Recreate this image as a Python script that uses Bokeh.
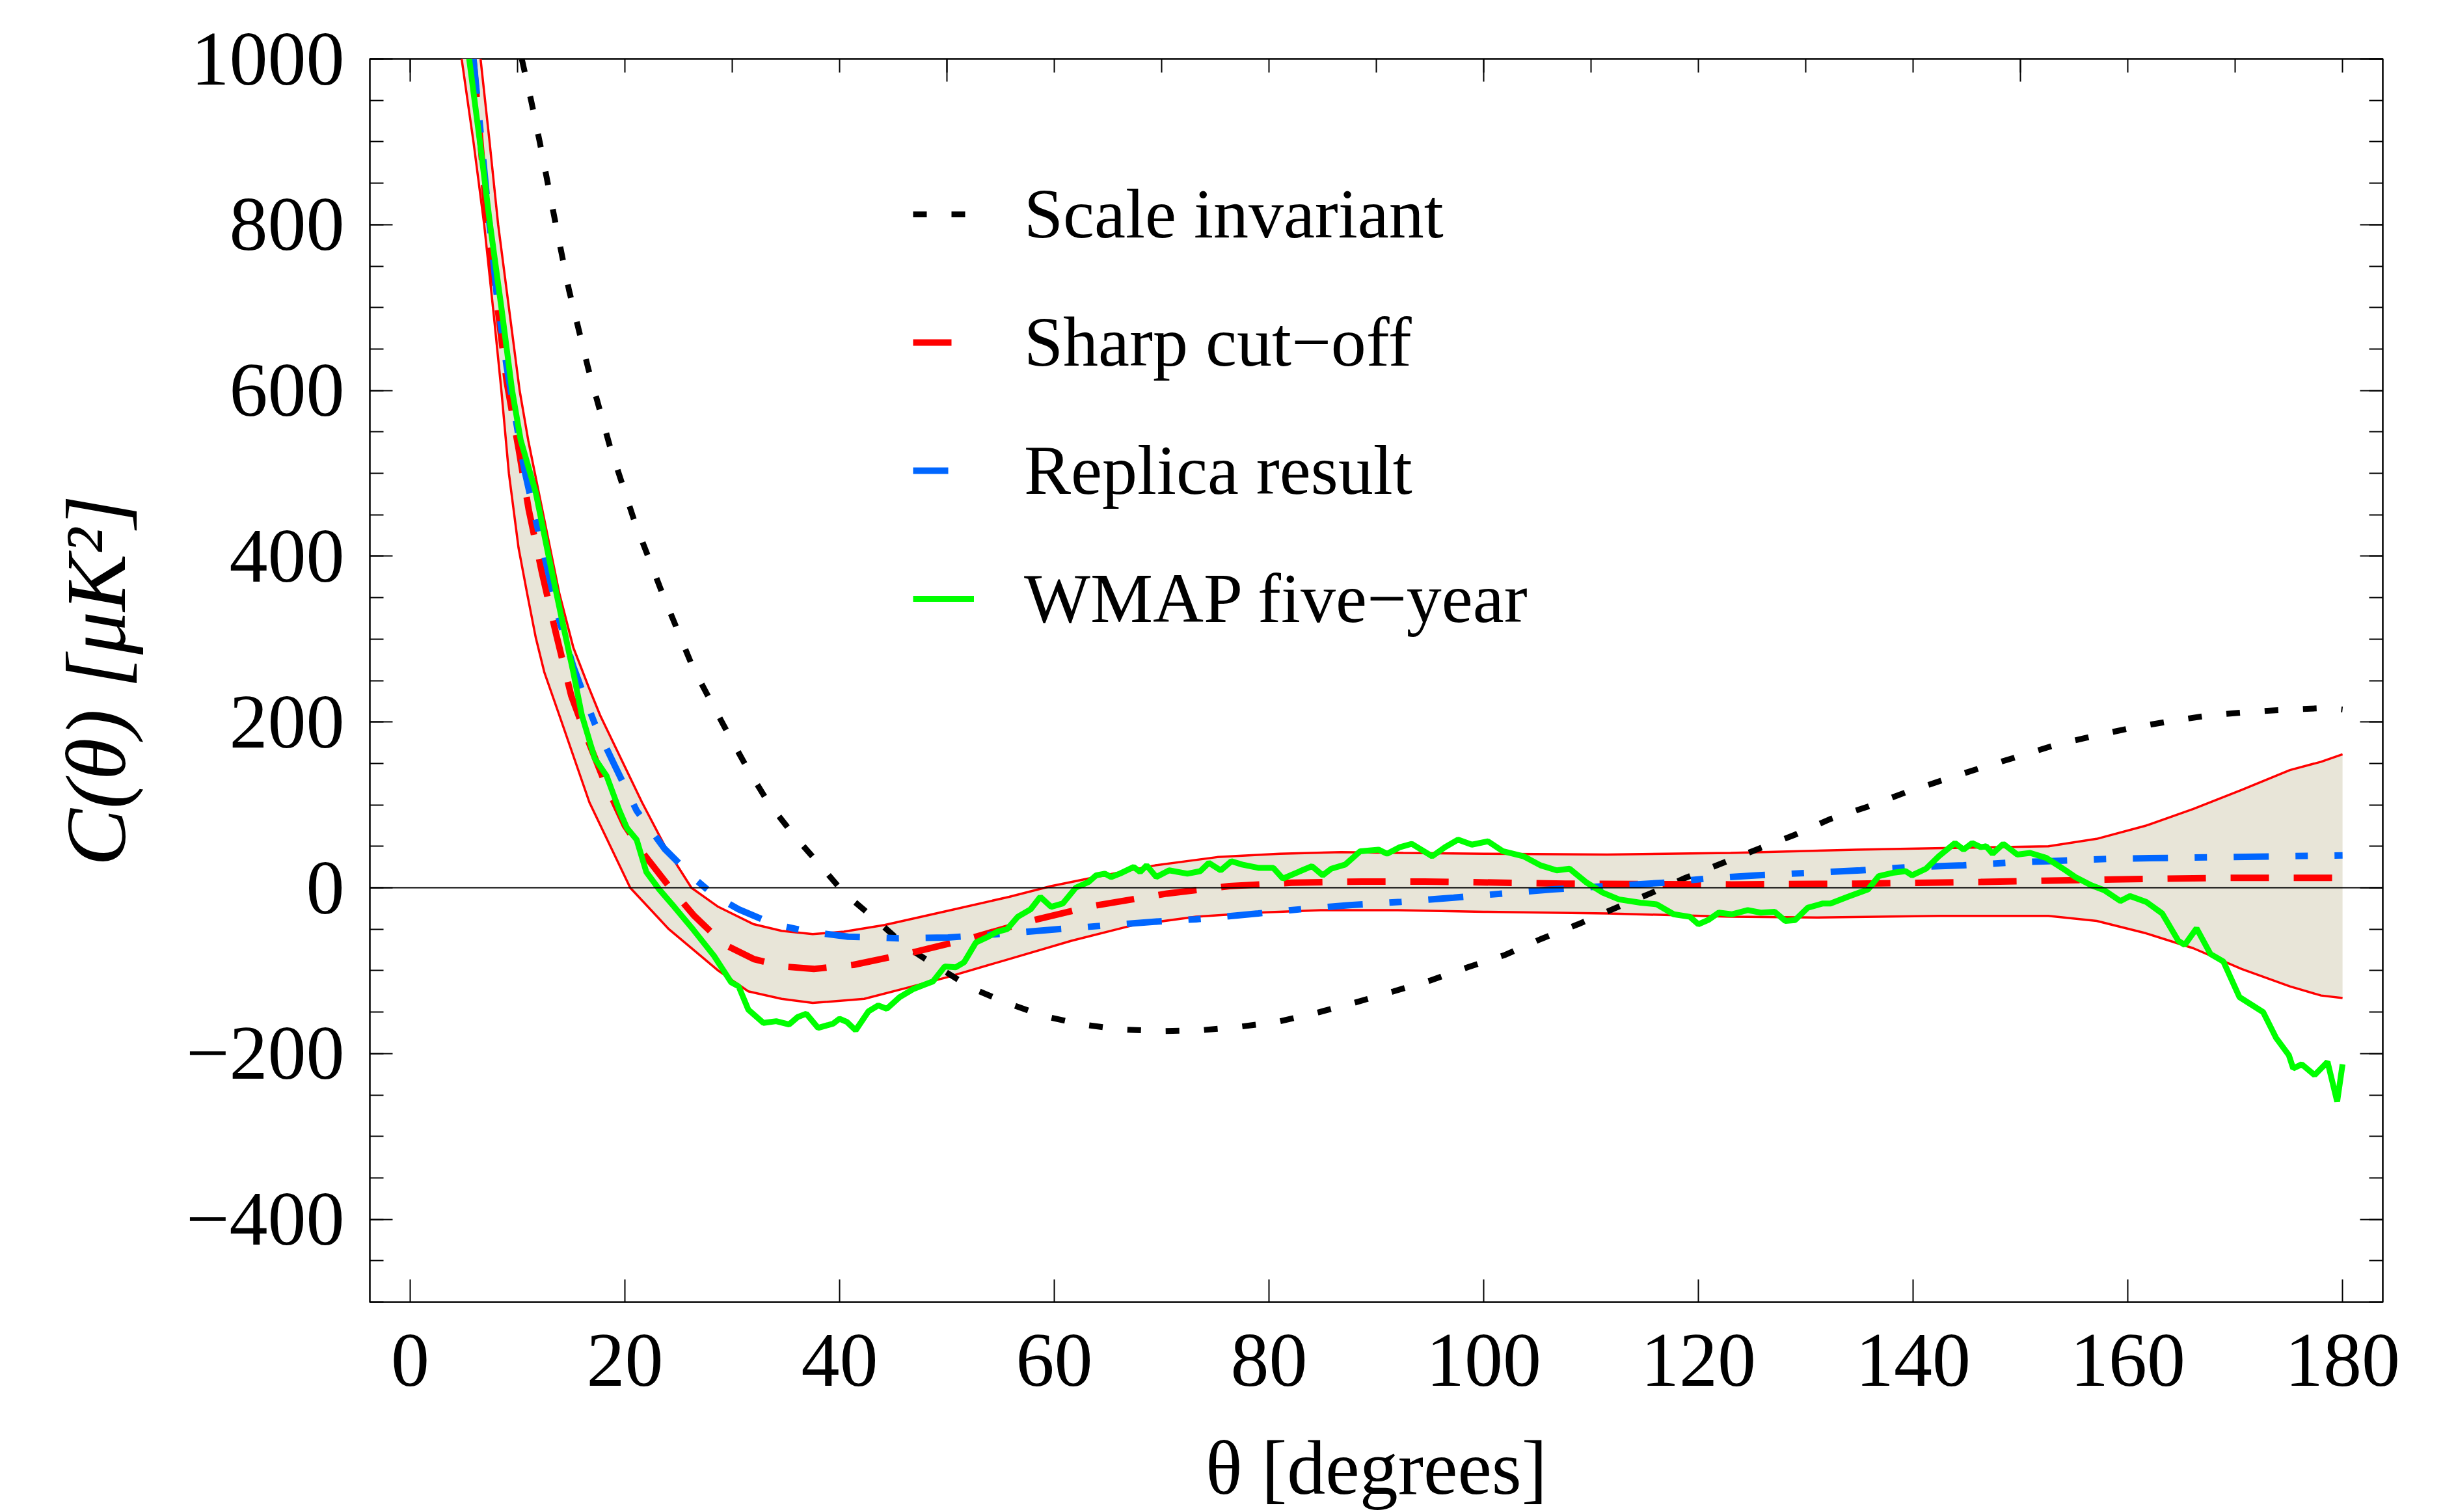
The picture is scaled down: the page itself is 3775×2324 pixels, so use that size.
from bokeh.plotting import figure
from bokeh.models import (Range1d, LinearAxis, SingleIntervalTicker, Legend,
                          LegendItem, Span, CustomJSTickFormatter)
from bokeh.embed import file_html
from bokeh.resources import INLINE

FONT = "Liberation Serif"

# ---------------- data ----------------
scale_x = [10.4, 11.3, 12.1, 13.6, 14.8, 16.6, 18.6, 20.9, 23.5, 26.3,
           28.0, 29.7, 31.5, 33.4, 35.7, 38.0, 40.4, 43.5, 46.2, 49.2,
           52.3, 55.6, 59.1, 62.6, 66.3, 69.9, 73.6, 77.1, 80.7, 84.4,
           87.9, 91.6, 95.0, 98.5, 102.0, 105.3, 108.8, 112.0, 115.5, 118.8,
           122.1, 125.6, 129.0, 132.3, 135.8, 139.3, 142.8, 146.4, 149.7, 153.2,
           156.8, 160.4, 164.0, 167.6, 171.2, 175.0, 178.6, 180.0]
scale_y = [1000, 948, 898, 798, 721, 626, 533, 442, 355, 267,
           225, 184, 142, 102, 64, 30, -6, -40, -71, -96,
           -121, -139, -155, -165, -171, -173, -172, -168, -162, -151,
           -139, -125, -112, -96, -81, -62, -44, -26, -7, 12,
           29, 47, 64, 83, 98, 115, 130, 145, 158, 172,
           183, 193, 201, 208, 212, 215, 217, 215]

sharp_x = [5.9, 7.2, 9.0, 10.1, 11.05, 12.3, 13.6, 15.0, 16.5, 18.1,
           20.0, 21.8, 24.1, 26.4, 29.2, 32.0, 34.8, 37.6, 41.3, 46.5,
           52.2, 57.8, 63.6, 70.5, 76.3, 82.1, 88.7, 94.5, 107.6, 123.1,
           134.7, 146.3, 158.6, 169.0, 180.0]
sharp_y = [1000, 800, 610, 530, 456, 379, 306, 232, 180, 128,
           75, 40, 2, -33, -68, -86, -95, -98, -93, -79,
           -61, -40, -22, -7, 2, 6, 7.5, 7.5, 5, 4,
           5, 7, 10, 12, 12]

replica_x = [5.9, 7.4, 8.1, 9.0, 9.8, 10.6, 11.6, 12.7, 13.8, 15.2,
             16.6, 17.2, 19.0, 21.1, 23.7, 26.4, 28.3, 30.6, 33.9, 37.1,
             40.8, 45.5, 50.1, 54.7, 59.4, 64.3, 69.3, 73.2, 79.0, 82.9,
             87.5, 92.3, 97.2, 101.8, 106.4, 111.5, 117.3, 120.7, 125.4, 130.4,
             135.1, 139.7, 144.7, 149.3, 152.6, 158.6, 169.1, 180.0]
replica_y = [1000, 800, 712, 628, 568, 507, 449, 390, 327, 267,
             218, 198, 149, 93, 47, 12, -9, -26, -44, -53,
             -59, -61, -60, -56, -51, -46, -41, -38, -31, -26,
             -21, -17, -12, -7, -2, 2, 6.5, 11, 15, 18,
             21, 25, 27, 30.5, 32, 35, 37, 39]

wmap_x = [5.5, 6.5, 7.45, 8.5, 9.5, 10.3, 11.7, 12.9, 14.2, 15.2,
          16.0, 17.2, 18.3, 19.5, 20.2, 21.1, 22.0, 23.2, 24.6, 26.4,
          28.3, 29.9, 30.6, 31.5, 32.9, 34.1, 35.3, 36.1, 36.9, 38.0,
          39.4, 40.0, 40.7, 41.5, 42.7, 43.6, 44.4, 45.6, 46.9, 47.9,
          48.7, 49.8, 50.8, 51.6, 52.7, 53.7, 54.7, 55.6, 56.6, 57.8,
          58.7, 59.7, 60.8, 62.0, 63.2, 63.9, 64.7, 65.3, 66.1, 67.4,
          68.0, 68.6, 69.5, 70.7, 72.4, 73.6, 74.4, 75.5, 76.5, 77.5,
          79.0, 80.4, 81.3, 82.9, 84.0, 85.0, 85.8, 87.1, 88.5, 90.2,
          91.0, 92.2, 93.3, 95.2, 96.4, 97.6, 98.9, 100.4, 101.8, 103.7,
          105.3, 106.8, 108.0, 109.5, 111.1, 112.6, 114.6, 116.1, 117.7, 119.2,
          120.0, 120.9, 121.9, 123.1, 124.6, 125.8, 127.1, 128.1, 129.0, 130.2,
          131.6, 132.3, 133.9, 135.8, 136.8, 138.1, 139.3, 139.9, 141.2, 142.4,
          143.9, 144.7, 145.5, 146.3, 146.8, 147.4, 148.4, 149.7, 150.9, 152.4,
          154.2, 155.1, 156.6, 157.8, 159.3, 160.2, 161.7, 163.2, 164.7, 165.3,
          166.4, 167.7, 168.9, 170.4, 172.6, 173.8, 175.0, 175.4, 176.2, 177.4,
          178.6, 179.5, 180.0]
wmap_y = [1000, 900, 800, 700, 600, 540, 477, 400, 320, 260,
          208, 156, 135, 93, 72, 58, 19, -2, -23, -51,
          -82, -114, -119, -147, -163, -161, -165, -156, -152, -169,
          -164, -158, -162, -172, -149, -142, -146, -132, -122, -117,
          -113, -95, -96, -90, -66, -60, -53, -50, -35, -26,
          -11, -23, -19, 0, 7, 15, 17, 13, 17, 25,
          19, 27, 13, 21, 17, 20, 30, 21, 32, 28,
          24, 24, 11, 20, 26, 15, 23, 28, 44, 46,
          41, 49, 53, 38, 49, 58, 52, 56, 44, 38,
          27, 21, 23, 7, -6, -14, -18, -20, -32, -35,
          -44, -39, -30, -32, -27, -30, -29, -40, -39, -24,
          -19, -19, -11, -2, 14, 18, 20, 15, 23, 38,
          54, 46, 54, 49, 50, 41, 53, 40, 42, 36,
          21, 13, 3, -3, -16, -10, -17, -31, -64, -69,
          -49, -80, -89, -132, -150, -181, -202, -218, -213, -226,
          -210, -258, -213]

band_upper_x = [6.56, 7.4, 8.2, 9.2, 10.2, 11.0, 11.7, 12.8, 13.9, 15.2,
                16.6, 17.7, 21.6, 23.7, 26.2, 28.7, 32.0, 34.6, 37.5, 40.4,
                44.2, 50.0, 55.8, 59.7, 63.5, 69.4, 75.2, 81.0, 86.7, 92.5,
                100.0, 111.5, 123.0, 134.7, 143.7, 152.6, 157.1, 161.7, 166.1, 170.6,
                175.1, 178.0, 180.0]
band_upper_y = [1000, 900, 800, 700, 600, 540, 495, 425, 355, 290,
                243, 208, 103, 51, 0, -23, -44, -52, -56, -53,
                -45, -28, -11, 2, 12, 27, 37, 41, 43, 42,
                41, 40, 42, 46, 48, 50, 59, 75, 95, 118,
                142, 152, 161]

band_lower_x = [4.8, 5.9, 6.9, 7.8, 8.5, 9.2, 10.1, 10.9, 11.7, 12.5,
                13.9, 16.7, 20.5, 24.1, 28.7, 31.5, 34.6, 37.5, 42.3, 46.2,
                50.0, 55.8, 61.6, 67.4, 73.2, 79.0, 84.8, 92.0, 100.0, 111.5,
                123.0, 131.0, 142.4, 152.6, 157.1, 161.7, 166.1, 170.6, 175.1, 178.0,
                180.0]
band_lower_y = [1000, 900, 800, 690, 600, 500, 410, 355, 302, 260,
                208, 103, 0, -50, -100, -125, -134, -139, -134, -121,
                -108, -86, -64, -45, -35, -30, -27, -27, -29, -31,
                -35, -36, -34, -34, -40, -55, -73, -98, -119, -130,
                -133]

x_ticks_interval = 20
y_ticks_interval = 200
series_labels = ["Scale invariant", "Sharp cut\u2212off", "Replica result",
                 "WMAP five\u2212year"]

# ---------------- figure ----------------
p = figure(width=3775, height=2324, output_backend="svg", toolbar_location=None,
           x_range=Range1d(-3.75, 183.75), y_range=Range1d(-500, 1000),
           min_border_left=568, min_border_right=113, min_border_top=90,
           min_border_bottom=321, background_fill_color="white",
           border_fill_color="white")
p.xgrid.visible = False
p.ygrid.visible = False
p.outline_line_color = "black"
p.outline_line_width = 2.5

band_x = band_upper_x + band_lower_x[::-1]
band_y = band_upper_y + band_lower_y[::-1]
p.patch(band_x, band_y, fill_color="#E8E5D8", line_color=None)
p.line(band_upper_x, band_upper_y, line_color="#FF0000", line_width=3.5)
p.line(band_lower_x, band_lower_y, line_color="#FF0000", line_width=3.5)

p.add_layout(Span(location=0, dimension="width", line_color="black", line_width=2))

r_scale = p.line(scale_x, scale_y, line_color="black", line_width=9, line_dash="21 38")
r_sharp = p.line(sharp_x, sharp_y, line_color="#FF0000", line_width=10, line_dash="59 38")
r_rep = p.line(replica_x, replica_y, line_color="#0066FF", line_width=10,
               line_dash="54 41 19 41")
r_wmap = p.line(wmap_x, wmap_y, line_color="#00FF00", line_width=9)

minus_fmt = CustomJSTickFormatter(
    code="return tick < 0 ? '\u2212' + Math.abs(tick).toString() : tick.toString();")
blank_fmt = CustomJSTickFormatter(code="return '';")


def style_axis(ax, labels=True):
    ax.axis_line_color = None
    ax.major_tick_line_color = "black"
    ax.minor_tick_line_color = "black"
    ax.major_tick_line_width = 2
    ax.minor_tick_line_width = 2
    ax.major_tick_in = 35
    ax.major_tick_out = 0
    ax.minor_tick_in = 21
    ax.minor_tick_out = 0
    ax.major_label_text_font = FONT
    ax.major_label_text_color = "black"
    if labels:
        ax.major_label_text_font_size = "118px"
    else:
        ax.formatter = blank_fmt
        ax.major_label_text_font_size = "2px"
        ax.major_label_standoff = 0


xa = p.xaxis[0]
xa.ticker = SingleIntervalTicker(interval=x_ticks_interval, num_minor_ticks=0)
style_axis(xa)
xa.major_label_standoff = 50
xa.axis_label = "\u03b8 [degrees]"
xa.axis_label_text_font = FONT
xa.axis_label_text_font_size = "118px"
xa.axis_label_text_font_style = "normal"
xa.axis_label_text_color = "black"
xa.axis_label_standoff = 58

ya = p.yaxis[0]
ya.ticker = SingleIntervalTicker(interval=y_ticks_interval, num_minor_ticks=4)
ya.formatter = minus_fmt
style_axis(ya)
ya.major_label_standoff = 39
ya.axis_label = "C(\u03b8) [\u03bcK\u00b2]"
ya.axis_label_text_font = FONT
ya.axis_label_text_font_size = "132px"
ya.axis_label_text_font_style = "italic"
ya.axis_label_text_color = "black"
ya.axis_label_standoff = 62

top = LinearAxis(ticker=SingleIntervalTicker(interval=50, num_minor_ticks=5))
style_axis(top, labels=False)
p.add_layout(top, "above")

right = LinearAxis(ticker=SingleIntervalTicker(interval=y_ticks_interval, num_minor_ticks=4))
style_axis(right, labels=False)
p.add_layout(right, "right")

legend = Legend(items=[LegendItem(label=series_labels[0], renderers=[r_scale]),
                       LegendItem(label=series_labels[1], renderers=[r_sharp]),
                       LegendItem(label=series_labels[2], renderers=[r_rep]),
                       LegendItem(label=series_labels[3], renderers=[r_wmap])],
                location=(835, 1019), orientation="vertical",
                border_line_color=None, background_fill_alpha=0.0,
                label_text_font=FONT, label_text_font_size="108px",
                label_text_color="black",
                glyph_width=94, glyph_height=40, label_standoff=77,
                spacing=73, padding=0, margin=0, label_height=124)
p.add_layout(legend)

open("out.html", "w").write(file_html(p, INLINE))
